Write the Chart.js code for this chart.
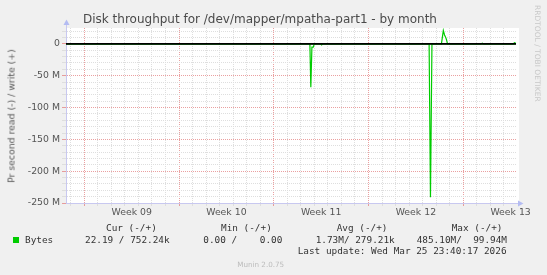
<!DOCTYPE html>
<html><head><meta charset="utf-8">
<script src="https://cdn.jsdelivr.net/npm/chart.js@4/dist/chart.umd.min.js"></script>
<style>
html,body{margin:0;padding:0;background:#f0f0f0;}
#wrap{position:relative;width:547px;height:275px;overflow:hidden;background:#f0f0f0;}
canvas{position:absolute;left:0;top:0;}
.t{position:absolute;white-space:nowrap;font-family:"DejaVu Sans",sans-serif;}
.m{position:absolute;white-space:pre;font-family:"DejaVu Sans Mono",monospace;font-size:9.4px;line-height:11px;color:#333;}
</style></head><body>
<div id="wrap">
<canvas id="c" width="547" height="275"></canvas>
<div class="t" style="left:83px;top:12px;font-size:12px;line-height:14px;color:#4a4a4a;">Disk throughput for /dev/mapper/mpatha-part1 - by month</div>
<div class="t" style="left:10.5px;top:115.5px;font-size:9.33px;line-height:11px;color:#555;transform:translate(-50%,-50%) rotate(-90deg);">Pr second read (-) / write (+)</div>
<div class="t" style="left:533px;top:5px;font-size:7.5px;line-height:8px;color:#c8c8c8;writing-mode:vertical-rl;">RRDTOOL / TOBI OETIKER</div>
<div class="m" style="left:106px;top:222.4px;">Cur (-/+)</div>
<div class="m" style="left:221px;top:222.4px;">Min (-/+)</div>
<div class="m" style="left:336.7px;top:222.4px;">Avg (-/+)</div>
<div class="m" style="left:451.7px;top:222.4px;">Max (-/+)</div>
<div style="position:absolute;left:13px;top:237px;width:6px;height:6px;background:#00cc00;"></div>
<div class="m" style="left:25px;top:234px;">Bytes</div>
<div class="m" style="left:85px;top:234px;">22.19 / 752.24k</div>
<div class="m" style="left:203.3px;top:234px;">0.00 /    0.00</div>
<div class="m" style="left:315.7px;top:234px;">1.73M/ 279.21k</div>
<div class="m" style="left:416.7px;top:234px;">485.10M/  99.94M</div>
<div class="m" style="left:297.7px;top:245.4px;">Last update: Wed Mar 25 23:40:17 2026</div>
<div class="t" style="left:260.7px;top:264.3px;font-size:7.2px;line-height:9px;color:#bcbcbc;transform:translate(-50%,-50%);">Munin 2.0.75</div>
</div>
<script>
// ---- data (x in days from left edge of graph, y in MB/s) ----
const readDays  = [0, 18.02, 18.09, 18.17, 18.27, 18.35, 18.80, 18.89, 18.97, 26.83, 26.93, 27.04, 33.25];
const readVals  = [0, 0,    -68,   -5,    -5,    0,     0,     -1.5,  0,     0,     -241,  0,     0];
const writeDays = [0, 27.74, 27.88, 27.97, 28.04, 28.11, 28.19, 30.66, 30.76, 30.85, 33.03, 33.14, 33.25];
const writeVals = [0, 0,     21,    14,    11,    7,     0,     0,     1.2,   0,     0,     2.0,   0.75];
const weekLabels = ['Week 09','Week 10','Week 11','Week 12','Week 13'];
const weekStarts = [1.352, 8.352, 15.352, 22.352, 29.352];
const yLabelVals = [0, -50, -100, -150, -200, -250];
const X_MAX = 33.25, Y_MIN = -250, Y_MAX = 25;

const dayTicks = [];
for (let d = weekStarts[0] - 1; d <= X_MAX; d += 1) dayTicks.push(+d.toFixed(3));
const midTicks = weekStarts.map(w => w + 3.5);
const isWeek = v => weekStarts.some(w => Math.abs(w - v) < 1e-3);
const isMid = v => midTicks.some(w => Math.abs(w - v) < 1e-3);

const RED = 'rgba(225,120,120,0.7)', GRAY = '#dedede';

const deco = {
  id: 'deco',
  beforeDraw(ch) {
    const {ctx, chartArea: a} = ch;
    ctx.save(); ctx.fillStyle = '#fff';
    ctx.fillRect(a.left, a.top, a.right - a.left + 3, a.bottom - a.top);
    ctx.restore();
  },
  afterDraw(ch) {
    const {ctx, chartArea: a} = ch;
    ctx.save();
    ctx.strokeStyle = '#c8c8f0'; ctx.lineWidth = 1;
    ctx.beginPath();
    ctx.moveTo(a.left + 0.5, a.top); ctx.lineTo(a.left + 0.5, 24);
    ctx.moveTo(a.right, Math.round(a.bottom) + 0.5); ctx.lineTo(518, Math.round(a.bottom) + 0.5);
    ctx.stroke();
    ctx.fillStyle = '#b4bcf2';
    ctx.beginPath();
    ctx.moveTo(a.left + 0.5, 19.5); ctx.lineTo(a.left + 3.5, 25); ctx.lineTo(a.left - 2.5, 25); ctx.closePath(); ctx.fill();
    const by = Math.round(a.bottom) + 0.5;
    ctx.beginPath();
    ctx.moveTo(523.5, by); ctx.lineTo(518, by - 3); ctx.lineTo(518, by + 3); ctx.closePath(); ctx.fill();
    ctx.restore();
  }
};

new Chart(document.getElementById('c'), {
  type: 'line',
  data: {
    datasets: [
      {data: [{x: 0, y: 0}, {x: X_MAX, y: 0}], borderColor: '#000', borderWidth: 1.6, pointRadius: 0},
      {data: readDays.map((d, i) => ({x: d, y: readVals[i]})), borderColor: '#00cc00', borderWidth: 1.2, pointRadius: 0},
      {data: writeDays.map((d, i) => ({x: d, y: writeVals[i]})), borderColor: '#00cc00', borderWidth: 1.2, pointRadius: 0}
    ]
  },
  options: {
    responsive: false, animation: false, devicePixelRatio: 1,
    layout: {padding: {top: 28, right: 31, bottom: 55, left: 0}},
    elements: {line: {tension: 0}},
    plugins: {legend: {display: false}, tooltip: {enabled: false}},
    scales: {
      x: {
        type: 'linear', min: 0, max: X_MAX,
        afterBuildTicks: s => {
          s.ticks = dayTicks.map(v => ({value: v})).concat(midTicks.map(v => ({value: v}))).sort((a, b) => a.value - b.value);
        },
        afterFit: s => { s.height = 17; },
        grid: {color: c => isMid(c.tick.value) ? 'rgba(0,0,0,0)' : (isWeek(c.tick.value) ? RED : GRAY), tickLength: 3},
        border: {color: '#c8c8f0', dash: [1, 1]},
        ticks: {autoSkip: false, maxRotation: 0, padding: 1, color: '#555',
          font: {family: 'DejaVu Sans', size: 9.33},
          callback: v => { const i = midTicks.findIndex(m => Math.abs(m - v) < 1e-3); return i >= 0 ? weekLabels[i] : ''; }}
      },
      y: {
        min: Y_MIN, max: Y_MAX,
        afterBuildTicks: s => { const t = []; for (let v = Y_MIN; v < Y_MAX; v += 10) t.push({value: v}); s.ticks = t; },
        afterFit: s => { s.width = 66; },
        grid: {color: c => yLabelVals.includes(c.tick.value) ? RED : GRAY, tickLength: 4},
        border: {color: '#c8c8f0', dash: [1, 1]},
        ticks: {autoSkip: false, padding: 2, color: '#555', font: {family: 'DejaVu Sans', size: 9.33},
          callback: v => yLabelVals.includes(v) ? (v === 0 ? '0' : v + ' M') : ''}
      }
    }
  },
  plugins: [deco]
});
</script>
</body></html>
